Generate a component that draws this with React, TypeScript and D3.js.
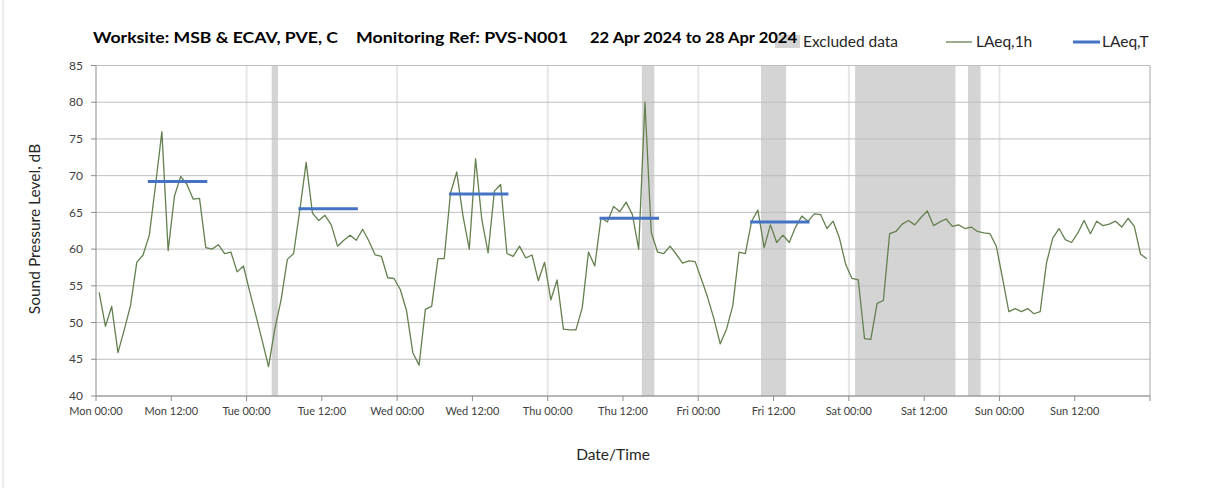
import React from 'react';
import * as d3 from 'd3';

// LAeq,1h per hour, Mon 00:00 .. Sun 23:00
const laeq1h = [
  54.1, 49.5, 52.2, 45.9, 49.0, 52.3, 58.2, 59.2, 61.9, 68.8, 76.0, 59.8,
  67.2, 69.9, 68.8, 66.8, 66.9, 60.2, 60.0, 60.6, 59.4, 59.6, 56.9, 57.7,
  54.2, 50.9, 47.5, 44.0, 49.1, 53.1, 58.6, 59.4, 65.4, 71.8, 64.9, 63.9,
  64.6, 63.3, 60.4, 61.2, 61.9, 61.2, 62.7, 61.1, 59.2, 59.0, 56.1, 56.0,
  54.5, 51.6, 45.9, 44.2, 51.8, 52.2, 58.7, 58.7, 67.6, 70.5, 64.5, 60.0,
  72.3, 64.0, 59.5, 67.9, 68.8, 59.4, 59.0, 60.4, 58.8, 59.2, 55.7, 58.2,
  53.1, 55.8, 49.1, 49.0, 49.0, 52.0, 59.6, 57.7, 64.3, 63.7, 65.8, 65.1,
  66.4, 64.7, 60.0, 80.0, 62.3, 59.6, 59.4, 60.4, 59.3, 58.1, 58.4, 58.3,
  55.9, 53.4, 50.5, 47.1, 49.1, 52.3, 59.6, 59.4, 63.8, 65.3, 60.2, 63.3,
  60.9, 61.9, 60.9, 63.0, 64.5, 63.8, 64.8, 64.7, 62.8, 63.8, 61.5, 57.9,
  56.0, 55.8, 47.8, 47.7, 52.6, 53.0, 62.1, 62.4, 63.4, 63.9, 63.3, 64.3,
  65.2, 63.2, 63.7, 64.1, 63.1, 63.3, 62.8, 63.0, 62.4, 62.2, 62.1, 60.4,
  56.0, 51.5, 51.9, 51.5, 51.9, 51.2, 51.5, 58.1, 61.5, 62.8, 61.3, 60.9,
  62.2, 63.9, 62.1, 63.8, 63.2, 63.4, 63.8, 63.0, 64.2, 63.1, 59.3, 58.7,
];

const tickLabels = [
  'Mon 00:00', 'Mon 12:00', 'Tue 00:00', 'Tue 12:00', 'Wed 00:00', 'Wed 12:00',
  'Thu 00:00', 'Thu 12:00', 'Fri 00:00', 'Fri 12:00', 'Sat 00:00', 'Sat 12:00',
  'Sun 00:00', 'Sun 12:00',
];

// excluded hours (from, to) in hours since Mon 00:00
const excludedFrom = [28, 87, 106, 121, 139];
const excludedTo = [29, 89, 110, 137, 141];

// LAeq,T daytime levels, Mon..Fri
const periodDays = [0, 1, 2, 3, 4];
const periodLevels = [69.2, 65.5, 67.5, 64.2, 63.7];
const periodFrom = 8;
const periodTo = 17;

const yTicks = [40, 45, 50, 55, 60, 65, 70, 75, 80, 85];

const font = "Lato, 'Open Sans', sans-serif";

export default function App() {
  const width = 1208;
  const height = 488;

  const x = d3.scaleLinear().domain([0, 168]).range([96, 1150]);
  const y = d3.scaleLinear().domain([40, 85]).range([396, 65.5]);

  const line = d3.line<number>()
    .x((_, i) => x(i + 0.5))
    .y(d => y(d));

  const xTicks = d3.range(0, 169, 12);
  const dayLines = d3.range(24, 168, 24);

  return (
    <svg width={width} height={height} style={{ position: 'absolute', left: 0, top: 0, background: '#fff' }}>
      <line x1={3} x2={3} y1={0} y2={height} stroke='#d9d9d9' />

      {excludedFrom.map((f, i) => (
        <rect key={i} x={x(f)} y={y(85)} width={x(excludedTo[i]) - x(f)} height={y(40) - y(85)} fill='#d4d4d4' />
      ))}

      {dayLines.map(h => (
        <line key={h} x1={x(h)} x2={x(h)} y1={y(85)} y2={y(40)} stroke='#e6e6e6' strokeWidth={2} />
      ))}

      {yTicks.map(t => (
        <g key={t}>
          <line x1={x(0)} x2={x(168)} y1={y(t)} y2={y(t)} stroke='#bfbfbf' />
          <line x1={x(0) - 5} x2={x(0)} y1={y(t)} y2={y(t)} stroke='#8c8c8c' />
          <text x={x(0) - 13} y={y(t)} dy='0.35em' textAnchor='end' fontFamily={font} fontSize={12} fill='#404040'>{t}</text>
        </g>
      ))}

      <line x1={x(0)} x2={x(0)} y1={y(85)} y2={y(40)} stroke='#8c8c8c' />
      <line x1={x(168)} x2={x(168)} y1={y(85)} y2={y(40)} stroke='#a6a6a6' />
      <line x1={x(0)} x2={x(168)} y1={y(40)} y2={y(40)} stroke='#8c8c8c' />

      {xTicks.map((h, i) => (
        <g key={h}>
          <line x1={x(h)} x2={x(h)} y1={y(40)} y2={y(40) + 5} stroke='#8c8c8c' />
          {tickLabels[i] && (
            <text x={x(h)} y={415} textAnchor='middle' fontFamily={font} fontSize={11} fill='#404040'>{tickLabels[i]}</text>
          )}
        </g>
      ))}

      <path d={line(laeq1h) ?? ''} fill='none' stroke='#64804f' strokeWidth={1.3} strokeLinejoin='round' />

      {periodDays.map((d, i) => (
        <line
          key={d}
          x1={x(d * 24 + periodFrom + 0.5)}
          x2={x(d * 24 + periodTo + 0.5)}
          y1={y(periodLevels[i])}
          y2={y(periodLevels[i])}
          stroke='#4472c4'
          strokeWidth={3}
          strokeLinecap='square'
        />
      ))}

      {/* legend */}
      <rect x={775} y={35} width={25} height={13} fill='#d4d4d4' />
      <text x={803} y={47} fontFamily={font} fontSize={15.5} fill='#262626'>Excluded data</text>
      <line x1={946} x2={972} y1={42} y2={42} stroke='#64804f' strokeWidth={1.3} />
      <text x={976} y={47} fontFamily={font} fontSize={15.5} fill='#262626'>LAeq,1h</text>
      <line x1={1073} x2={1100} y1={42} y2={42} stroke='#4472c4' strokeWidth={3} />
      <text x={1102} y={47} fontFamily={font} fontSize={15.5} fill='#262626'>LAeq,T</text>

      {/* title */}
      <g fontFamily={font} fontWeight='bold' fontSize={14.5} fill='#000'>
        <text x={93} y={43} textLength={245} lengthAdjust='spacingAndGlyphs'>Worksite: MSB &amp; ECAV, PVE, C</text>
        <text x={356} y={43} textLength={212} lengthAdjust='spacingAndGlyphs'>Monitoring Ref: PVS-N001</text>
        <text x={590} y={43} textLength={207} lengthAdjust='spacingAndGlyphs'>22 Apr 2024 to 28 Apr 2024</text>
      </g>

      <text
        transform='translate(40, 229) rotate(-90)'
        textAnchor='middle'
        fontFamily={font}
        fontSize={15.5}
        fill='#262626'
      >
        Sound Pressure Level, dB
      </text>
      <text x={613} y={460} textAnchor='middle' fontFamily={font} fontSize={15.5} fill='#262626'>Date/Time</text>
    </svg>
  );
}
